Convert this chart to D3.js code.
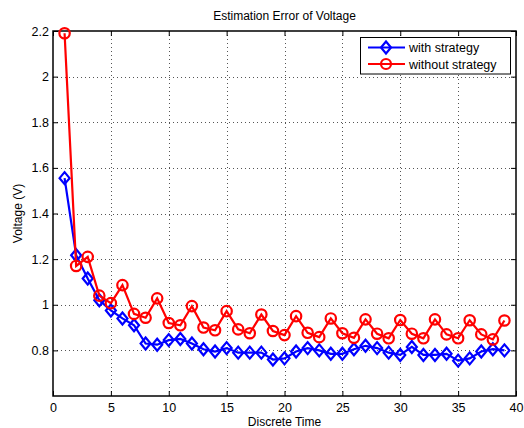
<!DOCTYPE html>
<html>
<head>
<meta charset="utf-8">
<script src="https://cdn.jsdelivr.net/npm/d3@7"></script>
<style>
  body { margin: 0; background: #fff; }
  text { font-family: "Liberation Sans", Arial, sans-serif; fill: #000; }
</style>
</head>
<body>
<script>
// discrete time steps
const steps = d3.range(1, 40)

// estimation error, with strategy
const withStrategy = [
  1.555, 1.217, 1.115, 1.02, 0.975, 0.94, 0.91, 0.83, 0.825, 0.845,
  0.85, 0.83, 0.805, 0.795, 0.81, 0.79, 0.79, 0.79, 0.76, 0.765,
  0.795, 0.81, 0.80, 0.785, 0.785, 0.805, 0.82, 0.81, 0.79, 0.78,
  0.815, 0.78, 0.78, 0.785, 0.755, 0.765, 0.795, 0.805, 0.80
]

// estimation error, without strategy
const withoutStrategy = [
  2.19, 1.17, 1.21, 1.04, 1.007, 1.086, 0.96, 0.943, 1.028, 0.92,
  0.91, 0.994, 0.90, 0.888, 0.972, 0.892, 0.875, 0.957, 0.885, 0.867,
  0.95, 0.877, 0.858, 0.94, 0.875, 0.855, 0.936, 0.873, 0.853, 0.933,
  0.873, 0.853, 0.936, 0.87, 0.853, 0.932, 0.87, 0.848, 0.931
]

const xTicks = [0, 5, 10, 15, 20, 25, 30, 35, 40]
const yTicks = [0.8, 1, 1.2, 1.4, 1.6, 1.8, 2, 2.2]
const seriesNames = ["with strategy", "without strategy"]

const width = 524, height = 428
const mLeft = 53, mRight = 516, mTop = 31, mBottom = 396

const x = d3.scaleLinear().domain([0, 40]).range([mLeft, mRight])
const y = d3.scaleLinear().domain([0.6, 2.2]).range([mBottom, mTop])

let svg = d3.select("body").append("svg")
  .attr("width", width)
  .attr("height", height)

// grid lines (dotted)
let grid = svg.append("g")
  .attr("stroke", "#555")
  .attr("stroke-width", 1)
  .attr("stroke-dasharray", "1,3")
grid.selectAll(".gx")
  .data(xTicks.filter(d => d > 0 && d < 40))
  .join("line")
  .attr("x1", d => Math.round(x(d)) + 0.5)
  .attr("x2", d => Math.round(x(d)) + 0.5)
  .attr("y1", mTop)
  .attr("y2", mBottom)
grid.selectAll(".gy")
  .data(yTicks.filter(d => d < 2.2))
  .join("line")
  .attr("x1", mLeft)
  .attr("x2", mRight)
  .attr("y1", d => Math.round(y(d)) + 0.5)
  .attr("y2", d => Math.round(y(d)) + 0.5)

// axes: ticks inside on all four sides
const tl = 5
svg.append("g").attr("transform", `translate(0,${mBottom})`)
  .call(d3.axisBottom(x).tickValues(xTicks).tickSizeInner(-tl).tickSizeOuter(0).tickPadding(7))
svg.append("g").attr("transform", `translate(0,${mTop})`)
  .call(d3.axisTop(x).tickValues(xTicks).tickSizeInner(-tl).tickSizeOuter(0).tickFormat(""))
svg.append("g").attr("transform", `translate(${mLeft},0)`)
  .call(d3.axisLeft(y).tickValues(yTicks).tickSizeInner(-tl).tickSizeOuter(0).tickPadding(4).tickFormat(d3.format("")))
svg.append("g").attr("transform", `translate(${mRight},0)`)
  .call(d3.axisRight(y).tickValues(yTicks).tickSizeInner(-tl).tickSizeOuter(0).tickFormat(""))

svg.selectAll(".domain").remove()
svg.selectAll(".tick line").attr("stroke", "#000")
svg.selectAll(".tick text")
  .style("font-family", '"Liberation Sans", Arial, sans-serif')
  .style("font-size", "12.5px")
  .attr("fill", "#000")

// box
svg.append("rect")
  .attr("x", mLeft).attr("y", mTop)
  .attr("width", mRight - mLeft).attr("height", mBottom - mTop)
  .attr("fill", "none")
  .attr("stroke", "#000")
  .attr("stroke-width", 1.5)

// series
const line = d3.line().x((d, i) => x(steps[i])).y(d => y(d))

function diamond(g) {
  g.attr("d", "M0,-6L5,0L0,6L-5,0Z")
}

svg.append("path")
  .datum(withStrategy)
  .attr("d", line)
  .attr("fill", "none")
  .attr("stroke", "#0000ff")
  .attr("stroke-width", 2.2)
svg.append("g").selectAll("path")
  .data(withStrategy)
  .join("path")
  .attr("transform", (d, i) => `translate(${x(steps[i])},${y(d)})`)
  .call(diamond)
  .attr("fill", "none")
  .attr("stroke", "#0000ff")
  .attr("stroke-width", 2.2)

svg.append("path")
  .datum(withoutStrategy)
  .attr("d", line)
  .attr("fill", "none")
  .attr("stroke", "#ff0000")
  .attr("stroke-width", 2.2)
svg.append("g").selectAll("circle")
  .data(withoutStrategy)
  .join("circle")
  .attr("cx", (d, i) => x(steps[i]))
  .attr("cy", d => y(d))
  .attr("r", 5.2)
  .attr("fill", "none")
  .attr("stroke", "#ff0000")
  .attr("stroke-width", 2.2)

// title and labels
svg.append("text")
  .attr("x", (mLeft + mRight) / 2)
  .attr("y", 20)
  .attr("text-anchor", "middle")
  .style("font-size", "12px")
  .text("Estimation Error of Voltage")
svg.append("text")
  .attr("x", (mLeft + mRight) / 2)
  .attr("y", 426)
  .attr("text-anchor", "middle")
  .style("font-size", "12px")
  .text("Discrete Time")
svg.append("text")
  .attr("transform", `translate(22,${(mTop + mBottom) / 2}) rotate(-90)`)
  .attr("text-anchor", "middle")
  .style("font-size", "12px")
  .text("Voltage (V)")

// legend
let lg = svg.append("g")
lg.append("rect")
  .attr("x", 360.5).attr("y", 37.5)
  .attr("width", 150).attr("height", 36.5)
  .attr("fill", "#fff")
  .attr("stroke", "#000")
  .attr("stroke-width", 1)
const colors = ["#0000ff", "#ff0000"]
seriesNames.forEach((name, i) => {
  let ry = 47.5 + i * 16.5
  lg.append("line")
    .attr("x1", 368).attr("x2", 405)
    .attr("y1", ry).attr("y2", ry)
    .attr("stroke", colors[i])
    .attr("stroke-width", 2.2)
  if (i === 0) {
    lg.append("path")
      .attr("transform", `translate(386,${ry})`)
      .call(diamond)
      .attr("fill", "none")
      .attr("stroke", colors[i])
      .attr("stroke-width", 2.2)
  } else {
    lg.append("circle")
      .attr("cx", 386).attr("cy", ry).attr("r", 5)
      .attr("fill", "none")
      .attr("stroke", colors[i])
      .attr("stroke-width", 2.2)
  }
  lg.append("text")
    .attr("x", 409)
    .attr("y", ry + 4.5)
    .style("font-size", "12.5px")
    .text(name)
})
</script>
</body>
</html>
